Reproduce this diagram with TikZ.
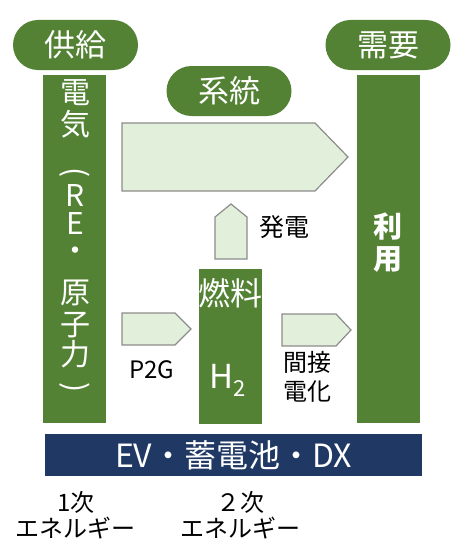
\documentclass[tikz,border=0pt]{standalone}
\usepackage{fontspec}
\setmainfont{Noto Sans CJK JP}
\definecolor{g}{HTML}{548235}
\definecolor{lg}{HTML}{E2EFDA}
\definecolor{ag}{HTML}{8C8C8C}
\definecolor{nb}{HTML}{203864}
\begin{document}
\begin{tikzpicture}[x=1pt,y=-1pt,
 pill/.style={fill=g, rounded corners=25pt, minimum width=125pt, minimum height=50pt, text=white, font=\fontsize{31}{33}\selectfont, inner sep=0pt},
 bar/.style={fill=g, inner sep=0pt},
 arr/.style={fill=lg, draw=ag, line width=1.2pt},
 vch/.style={text=white, font=\fontsize{30}{32}\selectfont, inner sep=0pt, text height=0.72em, text depth=0.05em},
 par/.style={text=white, font=\fontsize{30}{32}\selectfont, inner sep=0pt, rotate=-90},
 lbl/.style={font=\fontsize{24}{29}\selectfont, align=center, inner sep=0pt}
]
\useasboundingbox (0,0) rectangle (454,551);
% pills
\node[pill] (supply) at (75.5,45) {供給};
\node[pill] (demand) at (388,45) {需要};
\node[pill] (grid) at (229,91) {系統};
% bars
\node[bar, minimum width=63pt, minimum height=348pt] (lbar) at (74.5,249) {};
\node[bar, minimum width=63pt, minimum height=348pt] (rbar) at (388.5,249) {};
\node[bar, minimum width=63pt, minimum height=155pt] (mbar) at (230.5,346.5) {};
\node[fill=nb, minimum width=377pt, minimum height=42pt, inner sep=0pt, text=white, font=\fontsize{32}{34}\selectfont] (ev) at (233.5,455) {EV・蓄電池・DX};
% left vertical text
\foreach \c/\y [count=\i] in {電/100, 気/132, R/203, E/231, ・/258, 原/300, 子/332, 力/362}
  \node[vch] (v\i) at (75,\y) {\c};
\node[par] (lpar) at (75,173) {(};
\node[par] (rpar) at (75,388) {)};
% right vertical text
\node[vch, font=\fontsize{29}{31}\selectfont\bfseries] (use1) at (388,234) {利};
\node[vch, font=\fontsize{29}{31}\selectfont\bfseries] (use2) at (388,266) {用};
% middle texts
\node[vch, font=\fontsize{32}{34}\selectfont] (fuel) at (230.5,302) {燃料};
\node[vch, font=\fontsize{33}{35}\selectfont] (h2) at (228,385) {H\raisebox{-8pt}{\fontsize{22}{22}\selectfont 2}};
% arrows
\draw[arr] (122,123) -- (315,123) -- (348,157) -- (315,191) -- (122,191) -- cycle;
\draw[arr] (215,259) -- (215,217) -- (231,204) -- (247,217) -- (247,259) -- cycle;
\draw[arr] (122,313) -- (175,313) -- (191,329) -- (175,345) -- (122,345) -- cycle;
\draw[arr] (282,314) -- (336,314) -- (351,330) -- (336,346) -- (282,346) -- cycle;
% labels
\node[lbl, font=\fontsize{25}{29}\selectfont] (gen) at (284,227) {発電};
\node[lbl] (p2g) at (152,370) {P2G};
\node[lbl] (indirect) at (307,377) {間接\\電化};
\node[lbl, font=\fontsize{24}{26}\selectfont] (prim) at (76,515) {1次\\エネルギー};
\node[lbl, font=\fontsize{24}{26}\selectfont] (sec) at (240,515) {２次\\エネルギー};
\end{tikzpicture}
\end{document}
